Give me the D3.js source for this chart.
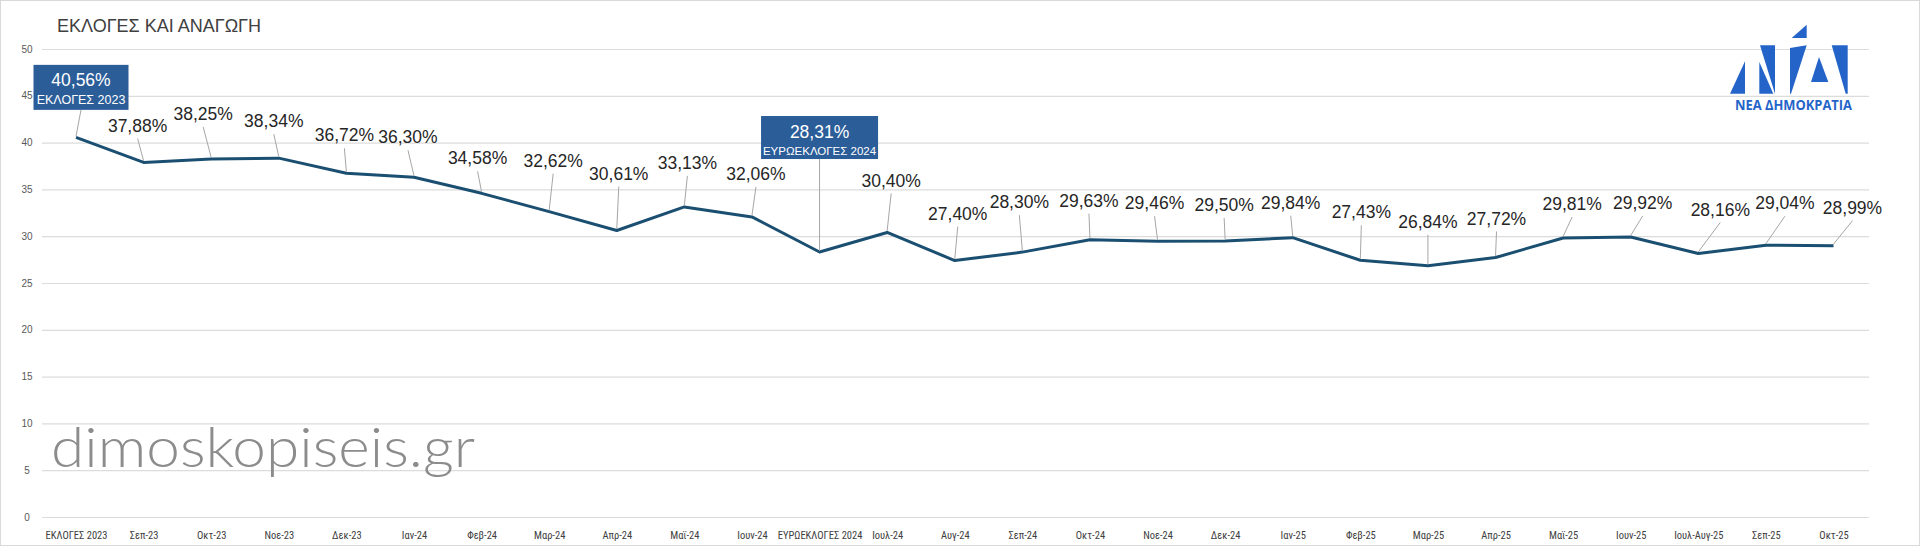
<!DOCTYPE html>
<html><head><meta charset="utf-8">
<script src="https://cdn.jsdelivr.net/npm/d3@7"></script>
<style>body{margin:0;background:#fff;} svg{display:block}</style>
</head><body>
<svg id="chart" width="1920" height="546"></svg>
<script>
// ---- data ----
const categories = ["ΕΚΛΟΓΕΣ 2023","Σεπ-23","Οκτ-23","Νοε-23","Δεκ-23","Ιαν-24","Φεβ-24","Μαρ-24","Απρ-24","Μαϊ-24","Ιουν-24","ΕΥΡΩΕΚΛΟΓΕΣ 2024","Ιουλ-24","Αυγ-24","Σεπ-24","Οκτ-24","Νοε-24","Δεκ-24","Ιαν-25","Φεβ-25","Μαρ-25","Απρ-25","Μαϊ-25","Ιουν-25","Ιουλ-Αυγ-25","Σεπ-25","Οκτ-25"];
const values = [40.56,37.88,38.25,38.34,36.72,36.30,34.58,32.62,30.61,33.13,32.06,28.31,30.40,27.40,28.30,29.63,29.46,29.50,29.84,27.43,26.84,27.72,29.81,29.92,28.16,29.04,28.99];
const yTicks = [0,5,10,15,20,25,30,35,40,45,50];
const highlightIndex = [0, 11];
const highlightText = ["ΕΚΛΟΓΕΣ 2023", "ΕΥΡΩΕΚΛΟΓΕΣ 2024"];
const title = "ΕΚΛΟΓΕΣ ΚΑΙ ΑΝΑΓΩΓΗ";
const watermark = "dimoskopiseis.gr";
const logoText = "ΝΕΑ ΔΗΜΟΚΡΑΤΙΑ";

// ---- layout (label placement relative to each point) ----
const labelOffsets = [[5,-50],[-6,-37],[-8,-45],[-5,-37],[-2,-38],[-6,-40],[-4,-35],[4,-51],[2,-57],[3,-44],[4,-43],[0,-114.5],[4,-52],[3,-47],[-3,-50],[-1,-39],[-3,-38],[-1,-36],[-2,-35],[1,-48],[0,-44],[1,-39],[9,-34],[12,-34],[22,-44],[19,-42],[19,-38]];
const boxSizes = [[95,45,12.5],[117,43,11.5]];

const svg = d3.select("#chart");
const W = 1920, H = 546;
const fmt = v => v.toFixed(2).replace(".", ",") + "%";

const x = d3.scalePoint().domain(categories).range([76, 1833.5]);
const y = d3.scaleLinear().domain([0, 50]).range([517, 49]);

// frame
svg.append("rect").attr("x",0.5).attr("y",0.5).attr("width",W-1).attr("height",H-1)
  .attr("fill","#fff").attr("stroke","#d9d9d9");

// gridlines
svg.append("g").attr("transform","translate(42,0)")
  .call(d3.axisLeft(y).tickValues(yTicks).tickSize(-1827).tickFormat(""))
  .call(g => g.select(".domain").remove())
  .call(g => g.selectAll("line").attr("stroke","#dcdcdc").attr("stroke-width",1.2));

// y tick labels
svg.append("g").selectAll("text").data(yTicks).join("text")
  .attr("x",27).attr("y",d=>y(d)).attr("dy","0.35em").attr("text-anchor","middle")
  .attr("font-family","Liberation Sans, Arial, sans-serif").attr("font-size",10)
  .attr("fill","#595959").text(d=>d);

// x axis labels
svg.append("g").attr("transform","translate(0,517)")
  .call(d3.axisBottom(x).tickSize(0).tickPadding(15))
  .call(g => g.select(".domain").remove())
  .call(g => g.selectAll("text")
     .attr("font-family","'Liberation Sans Narrow', 'Roboto Condensed', 'DejaVu Sans Condensed', Arial, sans-serif")
     .attr("font-stretch","condensed")
     .attr("font-size",10.5).attr("fill","#404040"));

// watermark
svg.append("text").attr("x",51).attr("y",467)
  .attr("font-family","Lato, 'Open Sans', sans-serif").attr("font-weight",300)
  .attr("font-size",55).attr("fill","#8c8c8c")
  .attr("textLength",424).attr("lengthAdjust","spacingAndGlyphs")
  .text(watermark);

// title
svg.append("text").attr("x",57).attr("y",32)
  .attr("font-family","Liberation Sans, Arial, sans-serif").attr("font-size",18)
  .attr("fill","#404040").text(title);

// line
const line = d3.line().x((d,i)=>x(categories[i])).y(d=>y(d));
svg.append("path").datum(values).attr("d",line)
  .attr("fill","none").attr("stroke","#1b4f71").attr("stroke-width",3)
  .attr("stroke-linejoin","round");

// labels + leaders
values.forEach((v,i) => {
  const px = x(categories[i]), py = y(v);
  const [dx,dy] = labelOffsets[i];
  const cx = px + dx, cy = py + dy;
  const hi = highlightIndex.indexOf(i);
  if (hi >= 0) {
    const [bw,bh,fs] = boxSizes[hi];
    const top = cy - bh/2;
    svg.append("line").attr("x1",cx).attr("y1",top+bh).attr("x2",px).attr("y2",py-1)
      .attr("stroke","#a6a6a6").attr("stroke-width",1);
    svg.append("rect").attr("x",cx-bw/2).attr("y",top).attr("width",bw).attr("height",bh)
      .attr("fill","#2b5d99");
    svg.append("text").attr("x",cx).attr("y",top+15.5).attr("dy","0.35em").attr("text-anchor","middle")
      .attr("font-family","Liberation Sans, Arial, sans-serif").attr("font-size",17.5)
      .attr("fill","#fff").text(fmt(v));
    svg.append("text").attr("x",cx).attr("y",top+35).attr("dy","0.35em").attr("text-anchor","middle")
      .attr("font-family","Liberation Sans, Arial, sans-serif").attr("font-size",fs)
      .attr("fill","#fff").text(highlightText[hi]);
  } else {
    svg.append("line").attr("x1",cx).attr("y1",cy+13).attr("x2",px).attr("y2",py-1.5)
      .attr("stroke","#a6a6a6").attr("stroke-width",1);
    svg.append("text").attr("x",cx).attr("y",cy).attr("dy","0.35em").attr("text-anchor","middle")
      .attr("font-family","Liberation Sans, Arial, sans-serif").attr("font-size",17.5)
      .attr("fill","#262626").text(fmt(v));
  }
});

// logo
const logoBlue = "#2464c8";
const shapes = [
  [[1730,93.7],[1745,61.3],[1745,93.7]],
  [[1760,45.3],[1775,45.3],[1775,93.7]],
  [[1759.3,62],[1759.3,93.7],[1773.3,93.7]],
  [[1791.7,38],[1806.7,24.7],[1806.7,38]],
  [[1790,48],[1806.7,45.3],[1791,93.7],[1790,93.7]],
  [[1819,57],[1811,82],[1828.3,82]],
  [[1831.7,45.3],[1847.7,45.3],[1847.7,93.7],[1845.7,93.7]]
];
svg.append("g").selectAll("polygon").data(shapes).join("polygon")
  .attr("points",d=>d.map(p=>p.join(",")).join(" ")).attr("fill",logoBlue);
svg.append("text").attr("x",1735).attr("y",110)
  .attr("font-family","'Open Sans', 'Liberation Sans', sans-serif").attr("font-weight",700)
  .attr("font-size",13.5).attr("fill",logoBlue)
  .attr("textLength",117).attr("lengthAdjust","spacingAndGlyphs").text(logoText);
</script>
</body></html>
